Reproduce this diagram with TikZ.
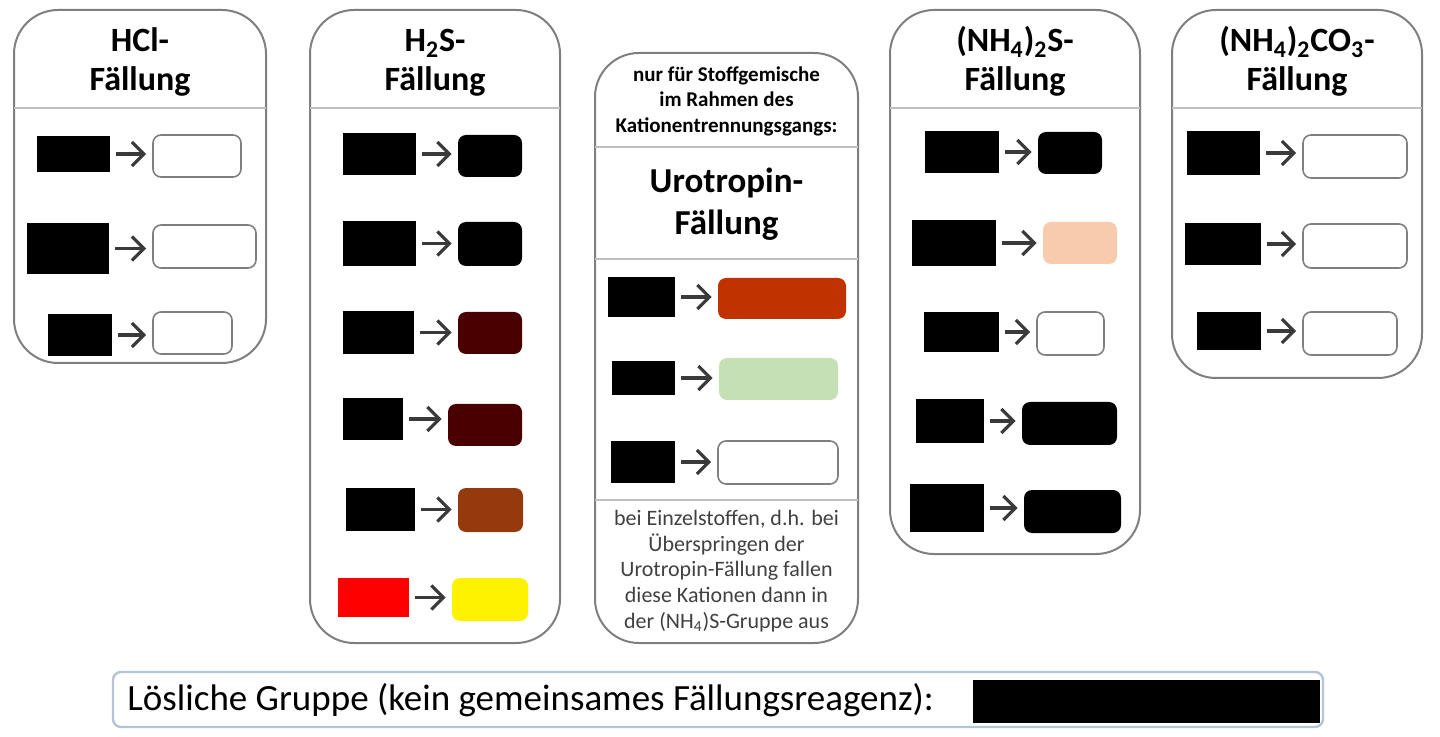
\documentclass[tikz,border=0pt]{standalone}
\usepackage{fontspec}
\setmainfont{Carlito}
\usetikzlibrary{arrows.meta,positioning}

\definecolor{rahmen}{HTML}{7F7F7F}
\definecolor{trennlinie}{HTML}{BFBFBF}
\definecolor{pfeilgrau}{HTML}{3A3A3A}
\definecolor{textgrau}{HTML}{404040}
\definecolor{dunkelrot}{HTML}{4A0000}
\definecolor{braun}{HTML}{943A0C}
\definecolor{rost}{HTML}{C03300}
\definecolor{hellgruen}{HTML}{C5E0B4}
\definecolor{pfirsich}{HTML}{F8CBAD}
\definecolor{leistenrand}{HTML}{B4C4D6}

\tikzset{
  gruppe/.style={draw=rahmen, line width=1pt, rounded corners=22pt},
  trenn/.style={draw=trennlinie, line width=1pt},
  kation/.style={fill=black, draw=none, inner sep=0pt},
  nd/.style={fill=#1, draw=none, rounded corners=4pt, inner sep=0pt},
  ndweiss/.style={fill=white, draw=rahmen, line width=0.8pt, rounded corners=4pt, inner sep=0pt},
  pfeil/.style={draw=pfeilgrau, line width=1.6pt, -{Straight Barb[length=6pt,width=12pt]}, shorten <=3pt, shorten >=3pt},
  titel/.style={font=\fontsize{17}{20}\selectfont\bfseries, anchor=base, inner sep=0pt},
  urotitel/.style={font=\fontsize{17.5}{21}\selectfont\bfseries, anchor=base, inner sep=0pt},
  hinweis/.style={font=\fontsize{10.5}{12.75}\selectfont\bfseries, align=center, inner sep=0pt},
  anmerkung/.style={font=\fontsize{11}{12.85}\selectfont, text=textgrau, align=center, inner sep=0pt},
}

% name, style, x1, y1, x2, y2 (pixel corners)
\newcommand{\kasten}[6]{%
  \node[#2, minimum width={(#5-#3)*0.5pt}, minimum height={(#6-#4)*0.5pt}] (#1) at ({(#3+#5)/2},{(#4+#6)/2}) {};}

\begin{document}
\begin{tikzpicture}[x=0.5pt, y=-0.5pt]
\useasboundingbox (0,0) rectangle (1440,737);

% Gruppen
\draw[gruppe] (14,10) rectangle (266,363);
\draw[gruppe] (310,10) rectangle (560,643);
\draw[gruppe] (595,53) rectangle (858,643);
\draw[gruppe] (890,10) rectangle (1140,554);
\draw[gruppe] (1172,10) rectangle (1422,378);

\draw[trenn] (14,108) -- (266,108);
\draw[trenn] (310,108) -- (560,108);
\draw[trenn] (890,108) -- (1140,108);
\draw[trenn] (1172,108) -- (1422,108);
\draw[trenn] (595,147) -- (858,147);
\draw[trenn] (595,259) -- (858,259);
\draw[trenn] (595,500) -- (858,500);

% Titel
\node[titel] (hcla) at (140,52) {HCl-};
\node[titel] (hclb) at (140,91) {Fällung};
\node[titel] (hsa) at (435,52) {H\textsubscript{2}S-};
\node[titel] (hsb) at (435,91) {Fällung};
\node[titel] (ammsa) at (1015,52) {(NH\textsubscript{4})\textsubscript{2}S-};
\node[titel] (ammsb) at (1015,91) {Fällung};
\node[titel] (ammca) at (1297,52) {(NH\textsubscript{4})\textsubscript{2}CO\textsubscript{3}-};
\node[titel] (ammcb) at (1297,91) {Fällung};

\node[hinweis] (urohin) at (726.5,101) {nur für Stoffgemische\\im Rahmen des\\Kationentrennungsgangs:};
\node[urotitel] (uroa) at (726.5,193) {Urotropin-};
\node[urotitel] (urob) at (726.5,235) {Fällung};
\node[anmerkung] (uroanm) at (726.5,571) {bei Einzelstoffen, d.h. bei\\Überspringen der\\Urotropin-Fällung fallen\\diese Kationen dann in\\der (NH\textsubscript{4})S-Gruppe aus};

% HCl-Gruppe
\kasten{hk1}{kation}{37}{136}{110}{172}
\kasten{hn1}{ndweiss}{153}{135}{241}{177}
\kasten{hk2}{kation}{27}{223}{109}{274}
\kasten{hn2}{ndweiss}{153}{225}{256}{268}
\kasten{hk3}{kation}{48}{314}{112}{356}
\kasten{hn3}{ndweiss}{153}{312}{232}{354}

% H2S-Gruppe
\kasten{sk1}{kation}{343}{133}{416}{175}
\kasten{sn1}{nd=black}{458}{135}{522}{177}
\kasten{sk2}{kation}{343}{221}{416}{266}
\kasten{sn2}{nd=black}{458}{222}{522}{266}
\kasten{sk3}{kation}{343}{311}{414}{354}
\kasten{sn3}{nd=dunkelrot}{458}{312}{522}{354}
\kasten{sk4}{kation}{343}{398}{403}{440}
\kasten{sn4}{nd=dunkelrot}{448}{404}{522}{446}
\kasten{sk5}{kation}{346}{488}{415}{531}
\kasten{sn5}{nd=braun}{458}{488}{523}{532}
\kasten{sk6}{nd=red, rounded corners=0pt}{338}{578}{409}{617}
\kasten{sn6}{nd=yellow}{452}{578}{528}{621}

% Urotropin-Gruppe
\kasten{uk1}{kation}{608}{277}{675}{317}
\kasten{un1}{nd=rost}{718}{278}{846}{319}
\kasten{uk2}{kation}{612}{361}{675}{395}
\kasten{un2}{nd=hellgruen}{719}{358}{838}{400}
\kasten{uk3}{kation}{611}{441}{675}{483}
\kasten{un3}{ndweiss}{718}{441}{838}{484}

% (NH4)2S-Gruppe
\kasten{ak1}{kation}{925}{131}{999}{173}
\kasten{an1}{nd=black}{1038}{132}{1102}{174}
\kasten{ak2}{kation}{912}{220}{996}{266}
\kasten{an2}{nd=pfirsich}{1043}{222}{1117}{264}
\kasten{ak3}{kation}{924}{312}{999}{352}
\kasten{an3}{ndweiss}{1037}{312}{1104}{355}
\kasten{ak4}{kation}{916}{399}{984}{443}
\kasten{an4}{nd=black}{1022}{402}{1117}{445}
\kasten{ak5}{kation}{910}{484}{984}{532}
\kasten{an5}{nd=black}{1024}{490}{1121}{533}

% (NH4)2CO3-Gruppe
\kasten{ck1}{kation}{1187}{131}{1260}{175}
\kasten{cn1}{ndweiss}{1303}{135}{1407}{178}
\kasten{ck2}{kation}{1185}{223}{1261}{265}
\kasten{cn2}{ndweiss}{1303}{224}{1407}{268}
\kasten{ck3}{kation}{1197}{312}{1261}{350}
\kasten{cn3}{ndweiss}{1303}{312}{1397}{355}

% Pfeile
\draw[pfeil] (hk1.east) -- (hk1.east -| hn1.west);
\draw[pfeil] (hk2.east) -- (hk2.east -| hn2.west);
\draw[pfeil] (hk3.east) -- (hk3.east -| hn3.west);

\draw[pfeil] (sk1.east) -- (sk1.east -| sn1.west);
\draw[pfeil] (sk2.east) -- (sk2.east -| sn2.west);
\draw[pfeil] (sk3.east) -- (sk3.east -| sn3.west);
\draw[pfeil] (sk4.east) -- (sk4.east -| sn4.west);
\draw[pfeil] (sk5.east) -- (sk5.east -| sn5.west);
\draw[pfeil] (sk6.east) -- (sk6.east -| sn6.west);

\draw[pfeil] (uk1.east) -- (uk1.east -| un1.west);
\draw[pfeil] (uk2.east) -- (uk2.east -| un2.west);
\draw[pfeil] (uk3.east) -- (uk3.east -| un3.west);

\draw[pfeil] (ak1.east) -- (ak1.east -| an1.west);
\draw[pfeil] (ak2.east) -- (ak2.east -| an2.west);
\draw[pfeil] (ak3.east) -- (ak3.east -| an3.west);
\draw[pfeil] (ak4.east) -- (ak4.east -| an4.west);
\draw[pfeil] (ak5.east) -- (ak5.east -| an5.west);

\draw[pfeil] (ck1.east) -- (ck1.east -| cn1.west);
\draw[pfeil] (ck2.east) -- (ck2.east -| cn2.west);
\draw[pfeil] (ck3.east) -- (ck3.east -| cn3.west);

% Loesliche Gruppe
\draw[draw=leistenrand, line width=1.2pt, rounded corners=4pt] (113,672) rectangle (1323,727);
\node[font=\fontsize{18.5}{22}\selectfont, anchor=west, inner sep=0pt] (loesl) at (127,700) {Lösliche Gruppe (kein gemeinsames Fällungsreagenz):};
\kasten{lk}{kation}{973}{680}{1320}{723}

\end{tikzpicture}
\end{document}
